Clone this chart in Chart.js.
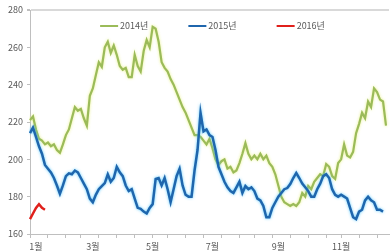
<!DOCTYPE html>
<html>
<head>
<meta charset="utf-8">
<script src="https://cdn.jsdelivr.net/npm/chart.js@4.4.1/dist/chart.umd.min.js"></script>
<style>
  html, body { margin: 0; padding: 0; background: #fff; }
  #wrap { width: 392px; height: 252px; }
</style>
</head>
<body>
<div id="wrap"><canvas id="chart" width="392" height="252"></canvas></div>
<script>
const seriesNames = ["2014년", "2015년", "2016년"];
const monthLabels = ["1월", "3월", "5월", "7월", "9월", "11월"];
const monthIndex = [2, 21, 41, 61, 83, 104];
const yTicks = [160, 180, 200, 220, 240, 260, 280];

const v2014 = [
  221, 223, 216, 211, 210, 208, 209, 207, 208, 205,
  203.5, 208, 213, 216, 222, 228, 226, 227, 222, 218,
  234, 238, 245, 252, 249.5, 260, 263, 257, 261, 256,
  250, 248, 249, 244, 244, 256, 250, 247, 258, 264,
  260, 271, 270, 263, 252, 249, 247, 243, 240, 236,
  232, 228, 225, 221, 217, 213, 213, 212, 210, 208,
  211, 206, 200, 197, 199, 200, 195, 196, 193, 194,
  198, 203, 208.7, 203, 200, 202, 200, 203, 200, 202,
  198, 196, 192, 186, 180, 177, 176, 175, 176, 175,
  177, 182, 180, 185.7, 184, 188, 190, 192, 191, 197.5,
  196, 191, 189.5, 198, 200, 208, 202, 201, 204, 214,
  219, 225, 222, 231, 228, 238, 236, 232, 231, 218
];

const v2015 = [
  214, 217, 212, 207, 203, 197, 195, 193, 190, 186,
  181.5, 186, 191, 192.5, 192, 194, 193, 190, 187, 184,
  179, 177, 181, 184, 185.7, 187.3, 192, 188, 190, 196,
  193, 191, 186, 183, 184, 179, 174, 173.5, 172, 171,
  174, 176, 189.5, 190, 186, 190, 184, 177, 184, 191,
  195, 186, 181, 180, 180, 194, 205, 225, 215, 216,
  213, 212, 205, 196, 192, 188, 185, 183, 182, 185,
  188, 182, 185.7, 184, 185, 183, 179, 178, 175, 169,
  169, 174, 177, 180, 182, 184, 184.6, 186.8, 190, 192.7,
  190, 187, 185, 183, 180, 180, 184, 187, 191, 192,
  190, 184, 181, 180, 181, 180, 179, 174, 169, 168,
  172, 173, 178, 180, 178, 177, 173, 173, 172
];

const v2016 = [168, 171, 174, 176, 174, 173];

(function () {
  const labels = v2014.map(function () { return ""; });
  labels.push("");
  monthIndex.forEach(function (idx, k) { labels[idx] = monthLabels[k]; });

  const fontFamily = "'Noto Sans CJK KR', 'DejaVu Sans', sans-serif";
  const font = { family: fontFamily, size: 9 };

  function isTick(i) {
    return Math.round(Math.round(i / 5.8) * 5.8) === i;
  }

  // soft halo behind the 2014/2015 lines, like the excel original
  const glow = {
    id: "glow",
    beforeDatasetDraw(chart, args) {
      const ds = chart.data.datasets[args.index];
      if (!ds.glowColor) return;
      const ctx = chart.ctx;
      ctx.save();
      ctx.shadowColor = ds.glowColor;
      ctx.shadowBlur = 3;
    },
    afterDatasetDraw(chart, args) {
      const ds = chart.data.datasets[args.index];
      if (!ds.glowColor) return;
      chart.ctx.restore();
    }
  };

  // one-row legend drawn inside the plot area
  const innerLegend = {
    id: "innerLegend",
    afterDatasetsDraw(chart) {
      const ctx = chart.ctx;
      const area = chart.chartArea;
      const lineW = 18, gapText = 2, gapItem = 40;
      ctx.save();
      ctx.font = "9px " + fontFamily;
      const items = chart.data.datasets.map(function (ds) {
        const tw = ctx.measureText(ds.label).width;
        return { ds: ds, w: lineW + gapText + tw };
      });
      let total = 0;
      items.forEach(function (it, k) { total += it.w + (k ? gapItem : 0); });
      let x = (area.left + area.right) / 2 + 3 - total / 2;
      const y = area.top + 16;
      items.forEach(function (it) {
        ctx.strokeStyle = it.ds.borderColor;
        ctx.lineWidth = 2;
        ctx.beginPath();
        ctx.moveTo(x, y);
        ctx.lineTo(x + lineW, y);
        ctx.stroke();
        ctx.fillStyle = "#595959";
        ctx.textBaseline = "middle";
        ctx.textAlign = "left";
        ctx.fillText(it.ds.label, x + lineW + gapText, y);
        x += it.w + gapItem;
      });
      ctx.restore();
    }
  };

  new Chart(document.getElementById("chart").getContext("2d"), {
    type: "line",
    data: {
      labels: labels,
      datasets: [
        { label: seriesNames[0], data: v2014, borderColor: "#9bbb59", backgroundColor: "#9bbb59",
          borderWidth: 2.2, glowColor: "rgba(230,240,120,0.9)", order: 2 },
        { label: seriesNames[1], data: v2015, borderColor: "#1f66ad", backgroundColor: "#1f66ad",
          borderWidth: 2.5, glowColor: "rgba(80,200,255,0.9)", order: 1 },
        { label: seriesNames[2], data: v2016, borderColor: "#e0201b", backgroundColor: "#c0282a",
          borderWidth: 2.5, order: 0 }
      ]
    },
    options: {
      responsive: false,
      animation: false,
      layout: { padding: { top: 10, right: 2, left: 0, bottom: 0 } },
      elements: { point: { radius: 0 }, line: { tension: 0 } },
      plugins: {
        tooltip: { enabled: false },
        legend: { display: false }
      },
      scales: {
        x: {
          afterFit: function (s) { s.height = 18; },
          border: { color: "#bfbfbf", width: 1 },
          grid: {
            drawOnChartArea: false,
            tickLength: 4,
            tickColor: function (c) { return isTick(c.index) ? "#bfbfbf" : "rgba(0,0,0,0)"; }
          },
          ticks: {
            autoSkip: false,
            maxRotation: 0,
            padding: 3,
            color: "#595959",
            font: font
          }
        },
        y: {
          min: 160,
          max: 280,
          afterFit: function (s) { s.width = 30; },
          afterBuildTicks: function (s) { s.ticks = yTicks.map(function (v) { return { value: v }; }); },
          border: { color: "#bfbfbf", width: 1 },
          grid: {
            tickLength: 3,
            lineWidth: function (c) { return c.tick && c.tick.value === 280 ? 2 : 1; },
            color: function (c) { return c.tick && c.tick.value === 280 ? "#d9d9d9" : "rgba(0,0,0,0)"; },
            tickColor: "#bfbfbf"
          },
          ticks: {
            padding: 4,
            color: "#595959",
            font: font
          }
        }
      }
    },
    plugins: [glow, innerLegend]
  });
})();
</script>
</body>
</html>
